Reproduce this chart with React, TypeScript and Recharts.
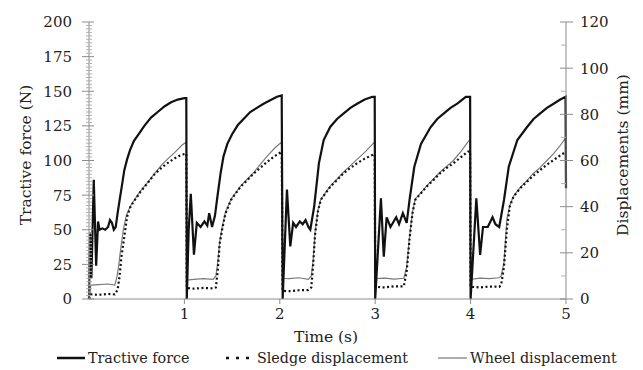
import React from "react";
import { ComposedChart, Line, XAxis, YAxis, Label, Legend } from "recharts";

// Tractive force (N), one sawtooth per second
const forceTime = [
  0, 0.01, 0.025, 0.05, 0.075, 0.095, 0.11, 0.14, 0.17, 0.2, 0.22, 0.24, 0.26, 0.28, 0.3, 0.32, 0.35, 0.37, 0.4, 0.43, 0.47,
  0.53, 0.58, 0.65, 0.72, 0.79, 0.86, 0.93, 1.0, 1.02,
  1.025, 1.045, 1.067, 1.1, 1.13, 1.17, 1.21, 1.24, 1.26, 1.29, 1.32, 1.35, 1.38, 1.41, 1.45, 1.5, 1.56, 1.62, 1.69, 1.76,
  1.83, 1.9, 1.97, 2.02,
  2.03, 2.075, 2.11, 2.14, 2.17, 2.21, 2.24, 2.27, 2.3, 2.32, 2.36, 2.41, 2.46, 2.53, 2.6, 2.67, 2.74, 2.81, 2.89, 2.97,
  2.995,
  3.0, 3.06, 3.09, 3.12, 3.16, 3.22, 3.25, 3.29, 3.33, 3.36, 3.41, 3.48, 3.58, 3.65, 3.72, 3.79, 3.86, 3.95, 3.995,
  4.0, 4.06, 4.1, 4.13, 4.18, 4.23, 4.26, 4.3, 4.35, 4.4, 4.49, 4.59, 4.66, 4.73, 4.8, 4.87, 4.94, 4.995, 5.0,
];
const forceN = [
  0, 48, 15, 86, 24, 56, 50, 51, 50, 52, 57, 55, 50, 52, 62, 71, 84, 93, 101, 107.5, 114,
  120, 125, 131, 135, 139, 142, 144, 145, 145,
  0, 50, 76, 32, 55, 52, 56, 53, 62, 52, 60, 76, 91, 103, 112, 119, 125.6, 130, 135, 138,
  141, 143.5, 146, 147,
  0, 79, 38, 55, 52, 56, 54, 57, 52, 50, 66.6, 98, 114.8, 124.4, 130, 134, 138, 141, 144, 146,
  146,
  0, 72.7, 30.5, 59, 52, 59, 54, 62, 55, 71.5, 95.5, 112, 124, 130, 134, 138, 141, 146, 146,
  0, 72.7, 31.8, 52, 52, 59, 54, 52, 71.5, 95.5, 114.8, 124, 130, 134, 138, 141, 144, 146, 80,
];

// Sledge displacement (mm)
const sledgeTime = [
  0, 0.02, 0.1, 0.2, 0.27, 0.3, 0.32, 0.34, 0.37, 0.4, 0.43, 0.46, 0.54, 0.61, 0.68, 0.75, 0.82, 0.9, 0.97, 1.02,
  1.025, 1.1, 1.2, 1.3, 1.33, 1.35, 1.37, 1.4, 1.43, 1.49, 1.59, 1.66, 1.73, 1.8, 1.87, 1.95, 2.02,
  2.03, 2.1, 2.2, 2.3, 2.33, 2.35, 2.37, 2.4, 2.43, 2.53, 2.6, 2.67, 2.74, 2.81, 2.89, 2.97, 2.995,
  3.0, 3.1, 3.2, 3.3, 3.33, 3.36, 3.39, 3.42, 3.54, 3.61, 3.68, 3.75, 3.82, 3.9, 3.97, 3.995,
  4.0, 4.1, 4.2, 4.3, 4.32, 4.35, 4.38, 4.41, 4.45, 4.52, 4.59, 4.66, 4.73, 4.8, 4.87, 4.94, 5.0,
];
const sledgeMm = [
  0, 2, 1.8, 2.2, 2, 4, 9.7, 18.3, 27, 35.7, 39.5, 41.6, 46.5, 50, 53.7, 56.5, 58.8, 61, 62.5, 63,
  4.8, 4.5, 4.8, 4.6, 5, 12.6, 24, 31, 37, 43, 48.7, 51.5, 54.5, 57, 59.5, 62, 63.8,
  3.5, 3.4, 3.8, 3.9, 5, 15, 28, 38, 43, 48.7, 51.5, 54.5, 56.8, 58.8, 60.8, 62.4, 62.8,
  5.3, 5, 5.5, 5.5, 12, 26, 37, 43, 48.7, 51.5, 54.5, 56.8, 58.8, 61.5, 63.8, 64,
  5.3, 5, 5.4, 5.3, 6, 14, 30, 40, 44.3, 48, 50.8, 53.5, 55.9, 58.2, 60.2, 62.2, 63.8,
];

// Wheel displacement (mm)
const wheelTime = [
  0, 0.02, 0.1, 0.2, 0.27, 0.29, 0.31, 0.33, 0.36, 0.39, 0.43, 0.46, 0.54, 0.61, 0.68, 0.75, 0.82, 0.9, 0.97, 1.02,
  1.025, 1.1, 1.2, 1.3, 1.33, 1.35, 1.37, 1.4, 1.43, 1.49, 1.59, 1.66, 1.73, 1.8, 1.87, 1.95, 2.02,
  2.03, 2.1, 2.2, 2.3, 2.33, 2.35, 2.37, 2.4, 2.43, 2.53, 2.6, 2.67, 2.74, 2.81, 2.89, 2.97, 2.995,
  3.0, 3.1, 3.2, 3.3, 3.33, 3.36, 3.39, 3.42, 3.54, 3.61, 3.68, 3.75, 3.82, 3.9, 3.97, 3.995,
  4.0, 4.1, 4.2, 4.3, 4.32, 4.35, 4.38, 4.41, 4.45, 4.52, 4.59, 4.66, 4.73, 4.8, 4.87, 4.94, 5.0,
];
const wheelMm = [
  0, 6, 6.2, 6.5, 6, 9, 14, 21, 30, 36, 40, 42, 46.8, 50.3, 54, 57.5, 60.5, 63.5, 66.5, 68,
  8.2, 8.5, 8.8, 8.5, 10, 16, 25, 32, 37.5, 43.3, 49, 52, 55, 58.5, 62, 65.5, 68,
  9, 8.8, 9.2, 8.5, 10, 17, 29, 38.5, 43.2, 49, 52, 55, 57.8, 60.5, 63.5, 67, 68,
  8.8, 9, 8.6, 9, 14, 27, 37.5, 43.3, 49, 52, 55, 57.5, 60, 64, 68, 69,
  8.5, 9, 8.8, 9.2, 10, 16, 34.5, 40.5, 44.6, 48.3, 51.3, 54.5, 57, 60, 63, 66.5, 70,
];

const timeTicks = [1, 2, 3, 4, 5];
const forceMajorTicks = [0, 25, 50, 75, 100, 125, 150, 175, 200];
const dispMajorTicks = [0, 20, 40, 60, 80, 100, 120];
const forceTicks = Array.from({ length: 81 }, (_, i) => i * 2.5);
const dispTicks = Array.from({ length: 13 }, (_, i) => i * 10);

const FONT = "'DejaVu Serif'";
const AXIS = "#8c8c8c";
const MINOR = "#b0b0b0";
const TEXT = "#222";
const textStyle = { fontFamily: FONT };

const forceData = forceTime.map((t, i) => ({ t, v: forceN[i] }));
const sledgeData = sledgeTime.map((t, i) => ({ t, v: sledgeMm[i] }));
const wheelData = wheelTime.map((t, i) => ({ t, v: wheelMm[i] }));

const LeftTick = (props: any) => {
  const { x, y, payload } = props;
  const major = forceMajorTicks.includes(payload.value);
  return (
    <g>
      <line
        x1={x - (major ? 7 : 3)}
        x2={x + (major ? 5 : 3)}
        y1={y}
        y2={y}
        stroke={major ? AXIS : MINOR}
        strokeWidth={1}
      />
      {major && (
        <text x={x - 17} y={y} dy="0.36em" textAnchor="end" fontSize={15} style={textStyle} fill={TEXT}>
          {payload.value}
        </text>
      )}
    </g>
  );
};

const RightTick = (props: any) => {
  const { x, y, payload } = props;
  const major = dispMajorTicks.includes(payload.value);
  return (
    <g>
      <line
        x1={x - (major ? 6 : 5)}
        x2={x + (major ? 7 : 0)}
        y1={y}
        y2={y}
        stroke={major ? AXIS : MINOR}
        strokeWidth={1}
      />
      {major && (
        <text x={x + 14} y={y} dy="0.36em" textAnchor="start" fontSize={15} style={textStyle} fill={TEXT}>
          {payload.value}
        </text>
      )}
    </g>
  );
};

const renderLegend = () => (
  <svg width={643} height={24} style={{ display: "block" }}>
    <line x1={57} x2={85} y1={12} y2={12} stroke="#111" strokeWidth={2.5} />
    <text x={88} y={12} dy="0.36em" fontSize={14.3} style={textStyle} fill={TEXT}>Tractive force</text>
    <line x1={226} x2={250} y1={12} y2={12} stroke="#111" strokeWidth={2.5} strokeDasharray="3 7" />
    <text x={257} y={12} dy="0.36em" fontSize={14.3} style={textStyle} fill={TEXT}>Sledge displacement</text>
    <line x1={438} x2={467} y1={12} y2={12} stroke="#777" strokeWidth={1.2} />
    <text x={470} y={12} dy="0.36em" fontSize={14.3} style={textStyle} fill={TEXT}>Wheel displacement</text>
  </svg>
);

export default function App() {
  return (
    <div style={{ position: "absolute", left: 0, top: 0, width: 643, height: 370, background: "#fff" }}>
      <ComposedChart width={643} height={370} margin={{ top: 22, right: 0, bottom: 0, left: 0 }}>
        <XAxis
          dataKey="t"
          type="number"
          domain={[0, 5]}
          ticks={timeTicks}
          allowDuplicatedCategory={false}
          height={71}
          stroke={AXIS}
          tickSize={5}
          tickMargin={4}
          tick={{ fill: TEXT, fontSize: 15, style: textStyle }}
        >
          <Label
            content={() => (
              <text x={326} y={336} dy="0.36em" textAnchor="middle" fontSize={15.5} style={textStyle} fill={TEXT}>
                Time (s)
              </text>
            )}
          />
        </XAxis>
        <YAxis
          yAxisId="left"
          type="number"
          domain={[0, 200]}
          ticks={forceTicks}
          interval={0}
          width={89}
          stroke={AXIS}
          tickLine={false}
          tickSize={0}
          tickMargin={0}
          tick={<LeftTick />}
        >
          <Label
            content={() => (
              <text
                x={25}
                y={155}
                dy="0.36em"
                textAnchor="middle"
                transform="rotate(-90 25 155)"
                fontSize={15.5}
                style={textStyle}
                fill={TEXT}
              >
                Tractive force (N)
              </text>
            )}
          />
        </YAxis>
        <YAxis
          yAxisId="right"
          orientation="right"
          type="number"
          domain={[0, 120]}
          ticks={dispTicks}
          interval={0}
          width={77}
          stroke={AXIS}
          tickLine={false}
          tickSize={0}
          tickMargin={0}
          tick={<RightTick />}
        >
          <Label
            content={() => (
              <text
                x={622}
                y={155}
                dy="0.36em"
                textAnchor="middle"
                transform="rotate(-90 622 155)"
                fontSize={15.5}
                style={textStyle}
                fill={TEXT}
              >
                Displacements (mm)
              </text>
            )}
          />
        </YAxis>
        <Legend
          layout="vertical"
          verticalAlign="middle"
          align="center"
          content={renderLegend}
          wrapperStyle={{ top: 346, left: 0, width: 643, height: 24 }}
        />
        <Line
          data={wheelData}
          dataKey="v"
          yAxisId="right"
          type="linear"
          stroke="#7a7a7a"
          strokeWidth={1.2}
          dot={false}
          activeDot={false}
          isAnimationActive={false}
        />
        <Line
          data={sledgeData}
          dataKey="v"
          yAxisId="right"
          type="linear"
          stroke="#111"
          strokeWidth={2.2}
          strokeDasharray="2 2.5"
          dot={false}
          activeDot={false}
          isAnimationActive={false}
        />
        <Line
          data={forceData}
          dataKey="v"
          yAxisId="left"
          type="linear"
          stroke="#111"
          strokeWidth={2.2}
          dot={false}
          activeDot={false}
          isAnimationActive={false}
        />
      </ComposedChart>
    </div>
  );
}
